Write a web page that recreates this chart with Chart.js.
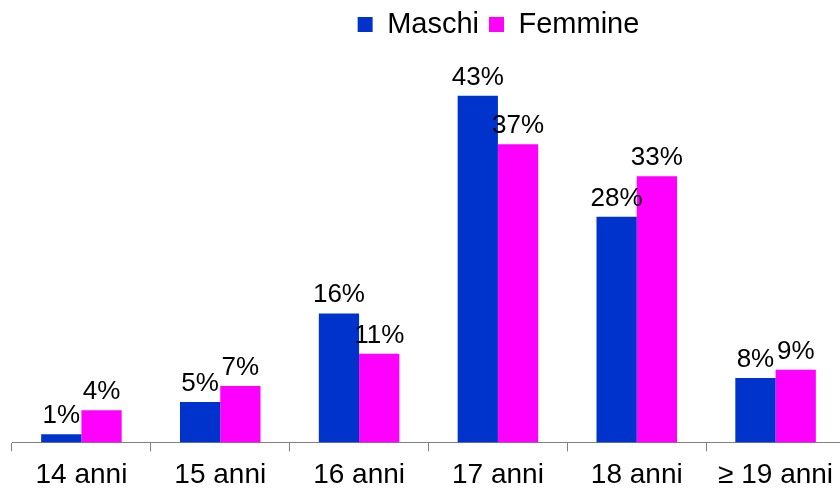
<!DOCTYPE html>
<html>
<head>
<meta charset="utf-8">
<script src="https://cdn.jsdelivr.net/npm/chart.js@4"></script>
<style>
  html, body { margin: 0; padding: 0; background: #fff; overflow: hidden; }
  #wrap { width: 840px; height: 492px; overflow: hidden; }
</style>
</head>
<body>
<div id="wrap"><canvas id="ageChart" width="850" height="492"></canvas></div>
<script>
const categories = ['14 anni', '15 anni', '16 anni', '17 anni', '18 anni', '\u2265 19 anni'];
const maschi = [1, 5, 16, 43, 28, 8];
const femmine = [4, 7, 11, 37, 33, 9];

const FONT = "'Liberation Sans', Arial, sans-serif";

// draws the percentage above each bar
const barLabels = {
    id: 'barLabels',
    afterDatasetsDraw(chart) {
        const ctx = chart.ctx;
        ctx.save();
        ctx.font = '26px ' + FONT;
        ctx.fillStyle = '#000';
        ctx.textAlign = 'center';
        ctx.textBaseline = 'alphabetic';
        chart.data.datasets.forEach((ds, i) => {
            chart.getDatasetMeta(i).data.forEach((bar, j) => {
                ctx.fillText(ds.data[j] + '%', bar.x, bar.y - 11);
            });
        });
        ctx.restore();
    }
};

// legend sits right of centre in the original
const shiftLegend = {
    id: 'shiftLegend',
    afterLayout(chart) {
        chart.legend.left += 70;
        chart.legend.right += 70;
    }
};

const ctx = document.getElementById('ageChart').getContext('2d');
const ageChart = new Chart(ctx, {
    type: 'bar',
    data: {
        labels: categories,
        datasets: [{
            label: 'Maschi',
            data: maschi,
            backgroundColor: '#0033CC',
            borderWidth: 0
        }, {
            label: 'Femmine',
            data: femmine,
            backgroundColor: '#FF00FF',
            borderWidth: 0
        }]
    },
    options: {
        responsive: false,
        animation: false,
        layout: { padding: { left: 12, right: 5, bottom: -7 } },
        datasets: {
            bar: { categoryPercentage: 0.58, barPercentage: 1.0 }
        },
        scales: {
            x: {
                grid: {
                    drawOnChartArea: false,
                    drawTicks: true,
                    tickLength: 9,
                    color: '#808080'
                },
                border: { color: '#808080', width: 1 },
                ticks: {
                    color: '#000',
                    padding: 7,
                    font: { family: FONT, size: 28 },
                    maxRotation: 0,
                    autoSkip: false
                }
            },
            y: {
                display: false,
                min: 0,
                max: 48.8
            }
        },
        plugins: {
            legend: {
                position: 'top',
                labels: {
                    color: '#000',
                    font: { family: FONT, size: 29 },
                    boxWidth: 15,
                    boxHeight: 15,
                    padding: 10
                }
            },
            tooltip: { enabled: false }
        }
    },
    plugins: [barLabels, shiftLegend]
});
</script>
</body>
</html>
